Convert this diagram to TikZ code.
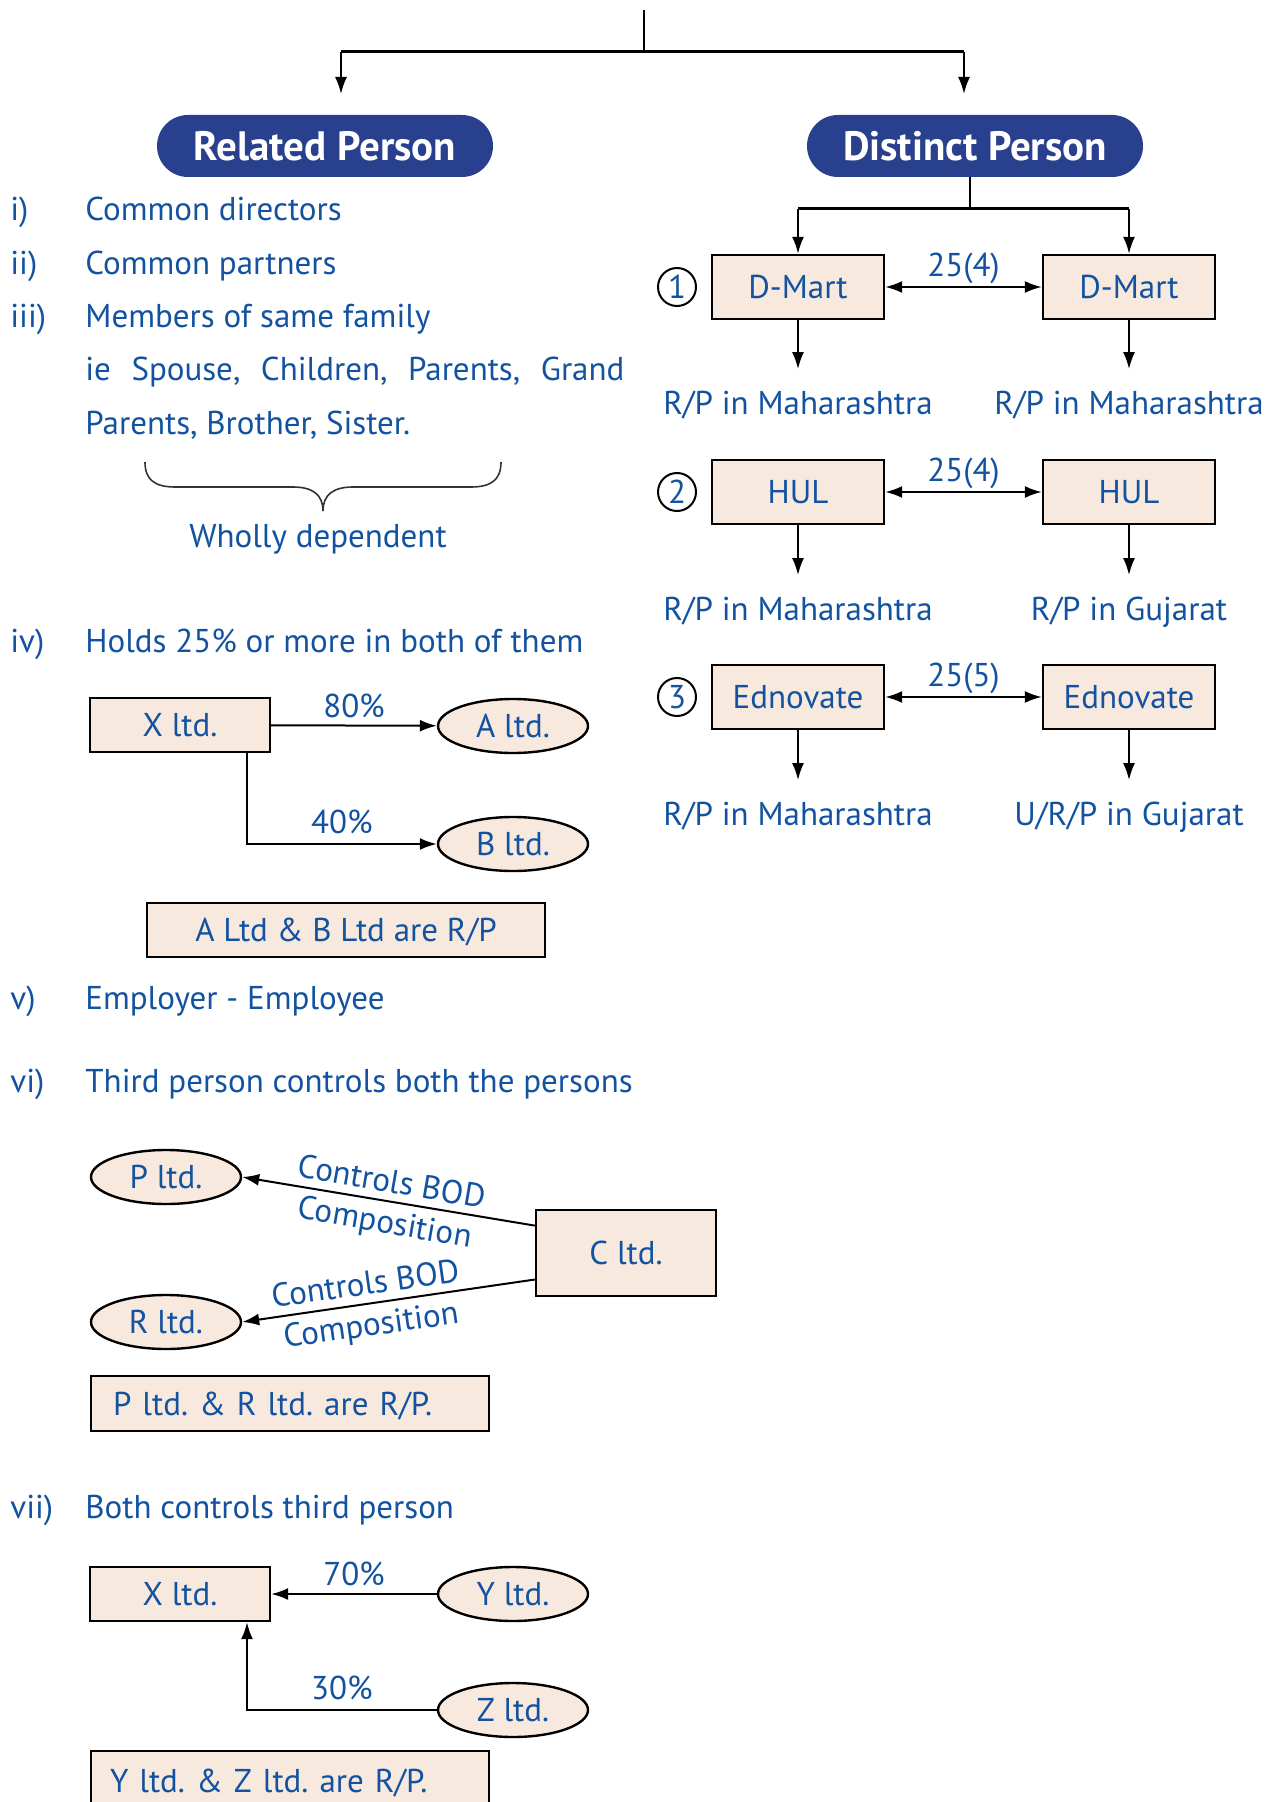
\documentclass[tikz,border=0pt]{standalone}
\usepackage{fontspec}
\setmainfont{PT Sans}
\usetikzlibrary{arrows.meta,shapes.geometric,calc}
\definecolor{txtblue}{RGB}{18,82,160}
\definecolor{pillblue}{RGB}{40,64,142}
\definecolor{boxfill}{RGB}{248,233,222}
\frenchspacing

\begin{document}
\begin{tikzpicture}[x=0.5pt,y=0.5pt,yscale=-1,xscale=1,
  txt/.style={text=txtblue,inner sep=0pt,text height=11.5pt,text depth=0pt,font=\fontsize{16.5}{20}\selectfont},
  pill/.style={fill=pillblue,rounded corners=15.5pt,minimum width=168pt,minimum height=31pt,text=white,font=\fontsize{20.5}{24}\selectfont\bfseries},
  firm/.style={txt,draw=black,line width=1.2pt,fill=boxfill,minimum width=86pt,minimum height=32pt},
  oval/.style={txt,ellipse,draw=black,line width=1.2pt,fill=boxfill,minimum width=75pt,minimum height=27pt},
  num/.style={txt,circle,draw=black,line width=1pt,minimum size=19pt},
  arr/.style={-{Latex[length=8.5pt,width=6pt]},line width=1pt},
  dbl/.style={{Latex[length=8.5pt,width=6pt]}-{Latex[length=8.5pt,width=6pt]},line width=1pt},
  down/.style={arr,shorten >=11pt}
]
\path[use as bounding box] (0,0) rectangle (1267,1802);

%Top split
\coordinate (root) at (644,10);
\coordinate (fork) at (644,52);
\coordinate (relin) at (341,94);
\coordinate (disin) at (964,94);
\draw[line width=1pt] (root) -- (fork);
\draw[line width=1.5pt] (relin |- fork) -- (disin |- fork);
\draw[arr] (relin |- fork) -- (relin);
\draw[arr] (disin |- fork) -- (disin);

%Rounded Rect
\node[pill] (rel) at (325,146) {Related Person};
\node[pill] (dis) at (975,146) {Distinct Person};

%Distinct person cases
\node[firm] (dm1) at (798,287) {D-Mart};
\node[firm] (dm2) at (1129,287) {D-Mart};
\node[num] (n1) at (677,287) {1};
\node[firm] (hul1) at (798,492) {HUL};
\node[firm] (hul2) at (1129,492) {HUL};
\node[num] (n2) at (677,492) {2};
\node[firm] (ed1) at (798,697) {Ednovate};
\node[firm] (ed2) at (1129,697) {Ednovate};
\node[num] (n3) at (677,697) {3};

\coordinate (dfork) at (970,209);
\draw[line width=1pt] (dis.south -| dfork) -- (dfork);
\draw[line width=1.5pt] (dm1 |- dfork) -- (dm2 |- dfork);
\draw[arr] (dm1 |- dfork) -- (dm1.north);
\draw[arr] (dm2 |- dfork) -- (dm2.north);

\draw[dbl] (dm1) -- (dm2) node[txt,midway,yshift=11pt] {25(4)};
\draw[dbl] (hul1) -- (hul2) node[txt,midway,yshift=11pt] {25(4)};
\draw[dbl] (ed1) -- (ed2) node[txt,midway,yshift=11pt] {25(5)};

% Text Node
\node[txt] (rp1) at (798,403) {R/P in Maharashtra};
\node[txt] (rp2) at (1129,403) {R/P in Maharashtra};
\node[txt] (rp3) at (798,609) {R/P in Maharashtra};
\node[txt] (rp4) at (1129,609) {R/P in Gujarat};
\node[txt] (rp5) at (798,814) {R/P in Maharashtra};
\node[txt] (rp6) at (1129,814) {U/R/P in Gujarat};
\draw[down] (dm1) -- (rp1);
\draw[down] (dm2) -- (rp2);
\draw[down] (hul1) -- (rp3);
\draw[down] (hul2) -- (rp4);
\draw[down] (ed1) -- (rp5);
\draw[down] (ed2) -- (rp6);

%Related person list
\node[txt,anchor=west] (l1) at (10,209) {i)};
\node[txt,anchor=west] (t1) at (85,209) {Common directors};
\node[txt,anchor=west] (l2) at (10,263) {ii)};
\node[txt,anchor=west] (t2) at (85,263) {Common partners};
\node[txt,anchor=west] (l3) at (10,316) {iii)};
\node[txt,anchor=west] (t3) at (85,316) {Members of same family};
\node[txt,anchor=west] (t3a) at (85,369) {\hbox to 269.5pt{ie\hfill Spouse,\hfill Children,\hfill Parents,\hfill Grand}};
\node[txt,anchor=west] (t3b) at (85,423) {Parents, Brother, Sister.};

%Curve Lines (brace)
\draw[line width=0.8pt,black!80] (145,462) .. controls (145,480) and (155,487) .. (175,487) -- (293,487) .. controls (313,487) and (323,495) .. (323,511) .. controls (323,495) and (333,487) .. (353,487) -- (471,487) .. controls (491,487) and (501,480) .. (501,462);
\node[txt] (wd) at (318,536) {Wholly dependent};

\node[txt,anchor=west] (l4) at (10,641) {iv)};
\node[txt,anchor=west] (t4) at (85,641) {Holds 25\% or more in both of them};

\node[firm,minimum width=90pt,minimum height=27pt] (xa) at (180,725) {X ltd.};
\node[oval] (al) at (513,726) {A ltd.};
\node[oval] (bl) at (513,844) {B ltd.};
\coordinate (xbend) at (247,844);
\draw[arr] (xa) -- (al) node[txt,midway,yshift=10pt] {80\%};
\draw[arr] (xa.south -| xbend) -- (xbend) -- (bl) node[txt,midway,yshift=11pt] {40\%};
\node[firm,minimum width=199pt,minimum height=27pt] (abres) at (346,930) {A Ltd \& B Ltd are R/P};

\node[txt,anchor=west] (l5) at (10,998) {v)};
\node[txt,anchor=west] (t5) at (85,998) {Employer - Employee};
\node[txt,anchor=west] (l6) at (10,1081) {vi)};
\node[txt,anchor=west] (t6) at (85,1081) {Third person controls both the persons};

\node[oval] (pl) at (166,1177) {P ltd.};
\node[oval] (rl) at (166,1322) {R ltd.};
\node[firm,minimum width=90pt,minimum height=43pt] (cl) at (626,1253) {C ltd.};
\draw[arr] ($(cl.north west)!0.19!(cl.south west)$) -- (pl.east)
  node[txt,midway,rotate=-9.85,anchor=south,inner sep=4pt] {Controls BOD}
  node[txt,midway,rotate=-9.85,anchor=north,inner sep=4pt] {Composition};
\draw[arr] ($(cl.north west)!0.80!(cl.south west)$) -- (rl.east)
  node[txt,pos=0.57,rotate=7.9,anchor=south,inner sep=4pt] {Controls BOD}
  node[txt,pos=0.57,rotate=7.9,anchor=north,inner sep=4pt] {Composition};
\node[firm,text width=177pt,inner xsep=11pt,align=left,minimum height=27.5pt] (prres) at (290,1403.5) {P ltd. \& R ltd. are R/P.};

\node[txt,anchor=west] (l7) at (10,1507) {vii)};
\node[txt,anchor=west] (t7) at (85,1507) {Both controls third person};

\node[firm,minimum width=90pt,minimum height=27pt] (xz) at (180,1594) {X ltd.};
\node[oval] (yl) at (513,1594) {Y ltd.};
\node[oval] (zl) at (513,1710) {Z ltd.};
\coordinate (zbend) at (247,1710);
\draw[arr] (yl) -- (xz) node[txt,midway,yshift=10pt] {70\%};
\draw[arr] (zl) -- (zbend) node[txt,midway,yshift=11pt] {30\%} -- (xz.south -| zbend);
\node[firm,anchor=north,text width=180pt,inner xsep=9.5pt,align=left,minimum height=30pt] (yzres) at (290,1750) {Y ltd. \& Z ltd. are R/P.};

\end{tikzpicture}
\end{document}
